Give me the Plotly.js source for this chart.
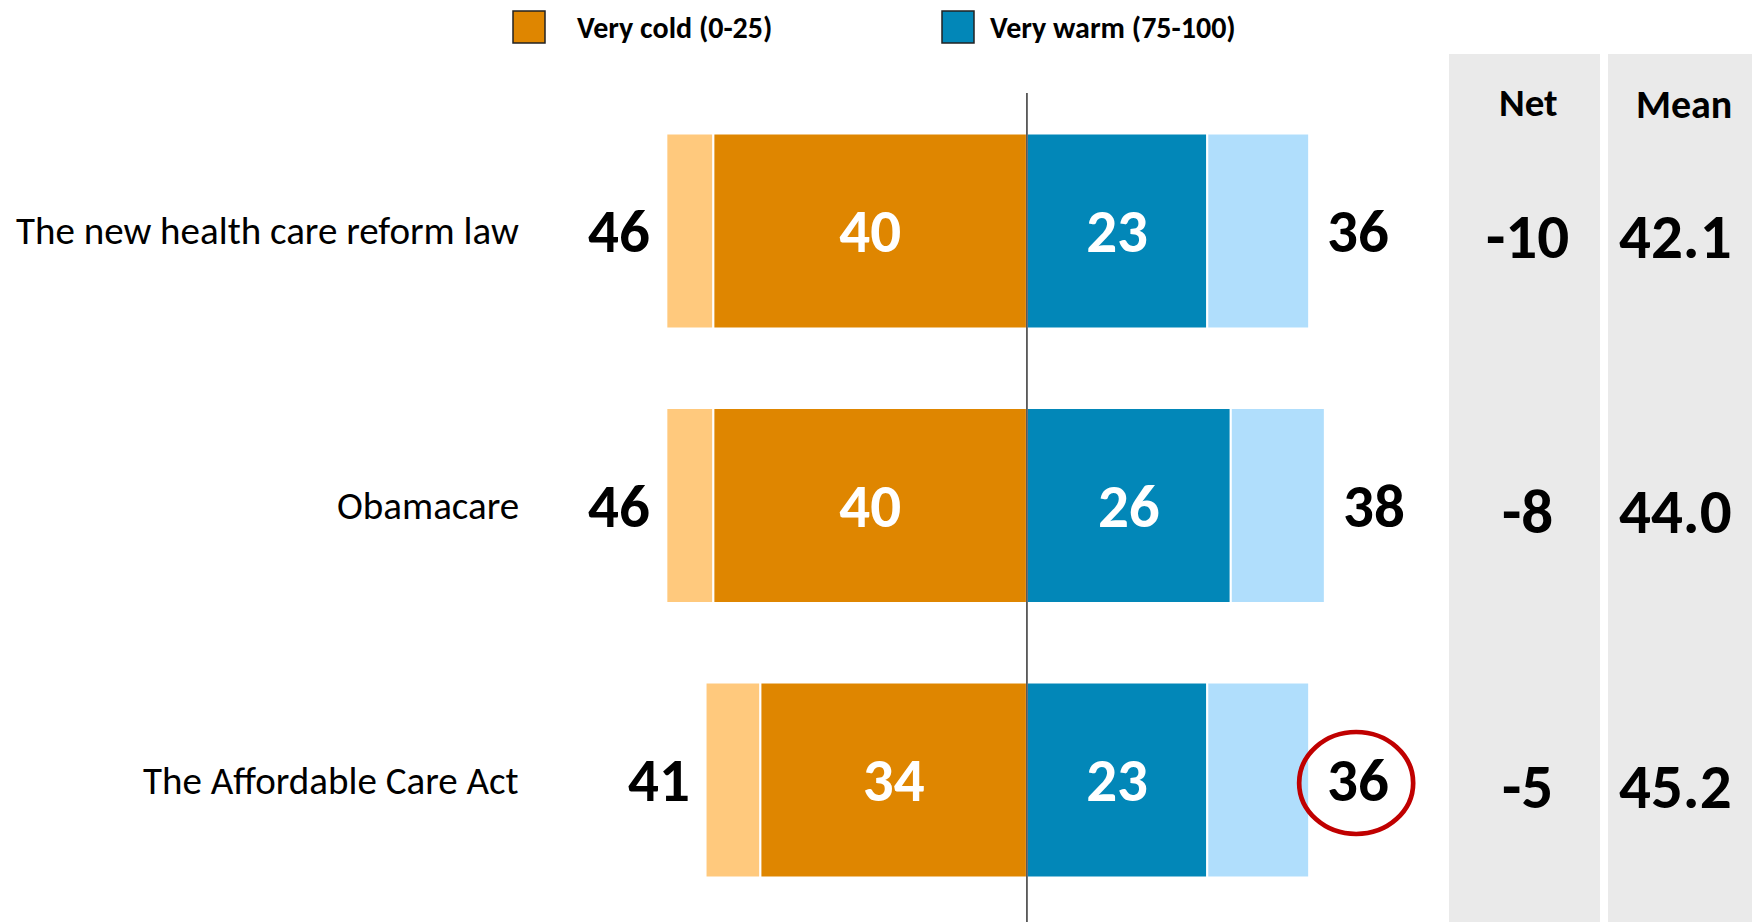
<!DOCTYPE html>
<html>
<head>
<meta charset="utf-8">
<script src="https://cdn.plot.ly/plotly-3.0.1.min.js"></script>
<style>html,body{margin:0;padding:0;background:#fff;}#chart{width:1756px;height:922px;}</style>
</head>
<body>
<div id="chart"></div>
<script>
// ---- data ----
const categories = ['The new health care reform law', 'Obamacare', 'The Affordable Care Act'];
const coldTotal = [46, 46, 41];      // total cold
const veryCold = [40, 40, 34];       // very cold (0-25)
const veryWarm = [23, 26, 23];       // very warm (75-100)
const warmTotal = [36, 38, 36];      // total warm
const netValues = ['-10', '-8', '-5'];
const meanValues = ['42.1', '44.0', '45.2'];
const legendLabels = ['Very cold (0-25)', 'Very warm (75-100)'];
const headers = ['Net', 'Mean'];

// ---- style ----
const C_DARK_OR = '#DF8600', C_LIGHT_OR = '#FFC97D', C_DARK_BL = '#0287B8', C_LIGHT_BL = '#B0DEFC';
const C_PANEL = '#EAEAEA';
const FONT = 'Carlito, Calibri, Lato, sans-serif';
const W = 1756, H = 922;
const px = v => v / W, py = v => 1 - v / H;
const BIG = 61;

const barCommon = {
  type: 'bar', orientation: 'h', y: categories, width: 0.71,
  hoverinfo: 'skip', showlegend: false
};

const traces = [
  Object.assign({}, barCommon, {
    x: coldTotal.map((t, i) => t - veryCold[i]), base: coldTotal.map(t => -t),
    marker: {color: C_LIGHT_OR, line: {color: '#fff', width: 2}}
  }),
  Object.assign({}, barCommon, {
    x: veryCold, base: veryCold.map(v => -v),
    marker: {color: C_DARK_OR, line: {color: '#fff', width: 2}},
    text: veryCold.map(String), textposition: 'inside', insidetextanchor: 'middle',
    textfont: {color: '#fff', size: BIG, family: FONT, weight: 700}
  }),
  Object.assign({}, barCommon, {
    x: veryWarm, base: veryWarm.map(() => 0),
    marker: {color: C_DARK_BL, line: {color: '#fff', width: 2}},
    text: veryWarm.map(String), textposition: 'inside', insidetextanchor: 'middle',
    textfont: {color: '#fff', size: BIG, family: FONT, weight: 700}
  }),
  Object.assign({}, barCommon, {
    x: warmTotal.map((t, i) => t - veryWarm[i]), base: veryWarm,
    marker: {color: C_LIGHT_BL, line: {color: '#fff', width: 2}}
  })
];

const annotations = [];
categories.forEach((c, i) => {
  annotations.push({xref: 'paper', yref: 'y', x: px(521), y: c, xanchor: 'right', yanchor: 'middle',
    text: c, showarrow: false, font: {family: FONT, size: 39, color: '#000'}});
  annotations.push({xref: 'x', yref: 'y', x: -coldTotal[i], y: c, xanchor: 'right', yanchor: 'middle', xshift: -14,
    text: String(coldTotal[i]), showarrow: false, font: {family: FONT, size: BIG, color: '#000', weight: 700}});
  annotations.push({xref: 'x', yref: 'y', x: warmTotal[i], y: c, xanchor: 'left', yanchor: 'middle', xshift: 16,
    text: String(warmTotal[i]), showarrow: false, font: {family: FONT, size: BIG, color: '#000', weight: 700}});
  annotations.push({xref: 'paper', yref: 'y', x: px(1527), y: c, xanchor: 'center', yanchor: 'middle', yshift: -6,
    text: netValues[i], showarrow: false, font: {family: FONT, size: 63, color: '#000', weight: 700}});
  annotations.push({xref: 'paper', yref: 'y', x: px(1675), y: c, xanchor: 'center', yanchor: 'middle', yshift: -6,
    text: meanValues[i], showarrow: false, font: {family: FONT, size: 63, color: '#000', weight: 700}});
});
annotations.push({xref: 'paper', yref: 'paper', x: px(1528), y: py(102), xanchor: 'center', yanchor: 'middle',
  text: headers[0], showarrow: false, font: {family: FONT, size: 39, color: '#000', weight: 700}});
annotations.push({xref: 'paper', yref: 'paper', x: px(1684), y: py(104), xanchor: 'center', yanchor: 'middle',
  text: headers[1], showarrow: false, font: {family: FONT, size: 40, color: '#000', weight: 700}});
annotations.push({xref: 'paper', yref: 'paper', x: px(575), y: py(27), xanchor: 'left', yanchor: 'middle',
  text: legendLabels[0], showarrow: false, font: {family: FONT, size: 30, color: '#000', weight: 700}});
annotations.push({xref: 'paper', yref: 'paper', x: px(988), y: py(27), xanchor: 'left', yanchor: 'middle',
  text: legendLabels[1], showarrow: false, font: {family: FONT, size: 30, color: '#000', weight: 700}});

const shapes = [
  {type: 'rect', layer: 'below', xref: 'paper', yref: 'paper', x0: px(1449), x1: px(1600), y0: 0, y1: py(54),
    fillcolor: C_PANEL, line: {width: 0}},
  {type: 'rect', layer: 'below', xref: 'paper', yref: 'paper', x0: px(1608), x1: px(1752), y0: 0, y1: py(54),
    fillcolor: C_PANEL, line: {width: 0}},
  {type: 'line', xref: 'x', yref: 'paper', x0: 0, x1: 0, y0: 0, y1: py(93), line: {color: '#000', width: 1.2}},
  {type: 'rect', xref: 'paper', yref: 'paper', x0: px(513), x1: px(545), y0: py(43), y1: py(11),
    fillcolor: C_DARK_OR, line: {color: '#222', width: 1.5}},
  {type: 'rect', xref: 'paper', yref: 'paper', x0: px(942), x1: px(974), y0: py(43), y1: py(11),
    fillcolor: C_DARK_BL, line: {color: '#222', width: 1.5}},
  {type: 'circle', xref: 'x', yref: 'y', xsizemode: 'pixel', ysizemode: 'pixel',
    xanchor: warmTotal[2], yanchor: categories[2], x0: -10, x1: 104, y0: -54, y1: 48,
    line: {color: '#C00000', width: 4.7}}
];

const layout = {
  width: W, height: H, margin: {l: 0, r: 0, t: 0, b: 0},
  paper_bgcolor: '#fff', plot_bgcolor: 'rgba(0,0,0,0)',
  barmode: 'overlay', showlegend: false,
  xaxis: {range: [-131.0, 93.0], visible: false, fixedrange: true},
  yaxis: {type: 'category', range: [2.5173, -0.8415], visible: false, fixedrange: true},
  annotations: annotations, shapes: shapes
};

Plotly.newPlot('chart', traces, layout, {staticPlot: true, displayModeBar: false});
</script>
</body>
</html>
